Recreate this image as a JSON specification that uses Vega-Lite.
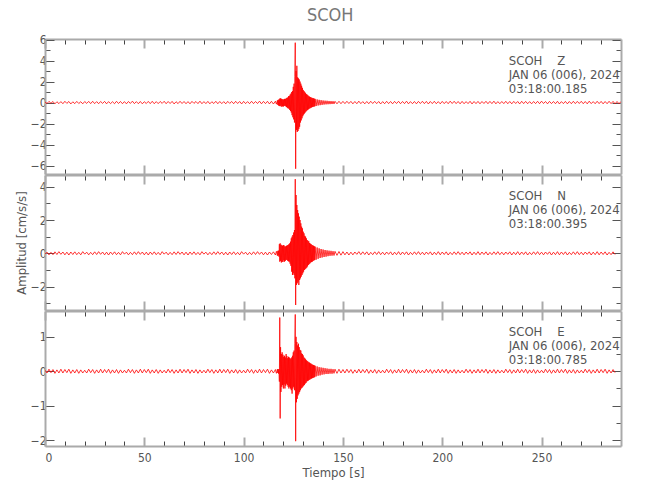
{
  "$schema": "https://vega.github.io/schema/vega-lite/v6.json",
  "padding": {"left": 15, "top": 6, "right": 5, "bottom": 5},
  "background": "white",
  "title": {"text": "SCOH", "fontSize": 18, "font": "DejaVu Sans Condensed", "fontWeight": "normal", "color": "#777777", "offset": 9, "anchor": "middle", "dx": 12},
  "spacing": -2,
  "datasets": {
    "labels": [
      {"ch": "Z", "t": 233.5, "a": 3.97, "label": "SCOH\u00a0\u00a0\u00a0\u00a0Z\nJAN 06 (006), 2024\n03:18:00.185"},
      {"ch": "N", "t": 233.5, "a": 3.44, "label": "SCOH\u00a0\u00a0\u00a0\u00a0N\nJAN 06 (006), 2024\n03:18:00.395"},
      {"ch": "E", "t": 233.5, "a": 1.14, "label": "SCOH\u00a0\u00a0\u00a0\u00a0E\nJAN 06 (006), 2024\n03:18:00.785"}
    ],
    "wave": [
      {"t":0,"Z":0.06,"N":-0.05,"E":0.03},{"t":1,"Z":-0.09,"N":0.07,"E":-0.05},{"t":2,"Z":0.11,"N":-0.09,"E":0.06},{"t":3,"Z":-0.07,"N":0.06,"E":-0.04},{"t":4,"Z":0.1,"N":-0.08,"E":0.05},
      {"t":5,"Z":-0.12,"N":0.09,"E":-0.06},{"t":6,"Z":0.08,"N":-0.07,"E":0.04},{"t":7,"Z":-0.1,"N":0.1,"E":-0.05},{"t":8,"Z":0.09,"N":-0.06,"E":0.06},{"t":9,"Z":-0.11,"N":0.08,"E":-0.05},
      {"t":10,"Z":0.12,"N":-0.09,"E":0.05},{"t":11,"Z":-0.08,"N":0.07,"E":-0.04},{"t":12,"Z":0.1,"N":-0.1,"E":0.06},{"t":13,"Z":-0.13,"N":0.08,"E":-0.06},{"t":14,"Z":0.07,"N":-0.07,"E":0.04},
      {"t":15,"Z":-0.1,"N":0.09,"E":-0.05},{"t":16,"Z":0.11,"N":-0.08,"E":0.05},{"t":17,"Z":-0.09,"N":0.06,"E":-0.06},{"t":18,"Z":0.08,"N":-0.09,"E":0.04},{"t":19,"Z":-0.12,"N":0.1,"E":-0.05},
      {"t":20,"Z":0.1,"N":-0.05,"E":0.03},{"t":21,"Z":-0.08,"N":0.07,"E":-0.05},{"t":22,"Z":0.11,"N":-0.09,"E":0.06},{"t":23,"Z":-0.1,"N":0.06,"E":-0.04},{"t":24,"Z":0.12,"N":-0.08,"E":0.05},
      {"t":25,"Z":-0.1,"N":0.09,"E":-0.06},{"t":26,"Z":0.09,"N":-0.07,"E":0.04},{"t":27,"Z":-0.11,"N":0.1,"E":-0.05},{"t":28,"Z":0.1,"N":-0.06,"E":0.06},{"t":29,"Z":-0.08,"N":0.08,"E":-0.05},
      {"t":30,"Z":0.11,"N":-0.09,"E":0.05},{"t":31,"Z":-0.12,"N":0.07,"E":-0.04},{"t":32,"Z":0.09,"N":-0.1,"E":0.06},{"t":33,"Z":-0.1,"N":0.08,"E":-0.06},{"t":34,"Z":0.08,"N":-0.07,"E":0.04},
      {"t":35,"Z":-0.11,"N":0.09,"E":-0.05},{"t":36,"Z":0.12,"N":-0.08,"E":0.05},{"t":37,"Z":-0.09,"N":0.06,"E":-0.06},{"t":38,"Z":0.1,"N":-0.09,"E":0.04},{"t":39,"Z":-0.11,"N":0.1,"E":-0.05},
      {"t":40,"Z":0.09,"N":-0.05,"E":0.03},{"t":41,"Z":-0.12,"N":0.07,"E":-0.05},{"t":42,"Z":0.1,"N":-0.09,"E":0.06},{"t":43,"Z":-0.08,"N":0.06,"E":-0.04},{"t":44,"Z":0.13,"N":-0.08,"E":0.05},
      {"t":45,"Z":-0.1,"N":0.09,"E":-0.06},{"t":46,"Z":0.09,"N":-0.07,"E":0.04},{"t":47,"Z":-0.11,"N":0.1,"E":-0.05},{"t":48,"Z":0.1,"N":-0.06,"E":0.06},{"t":49,"Z":-0.12,"N":0.08,"E":-0.05},
      {"t":50,"Z":0.08,"N":-0.09,"E":0.05},{"t":51,"Z":-0.09,"N":0.07,"E":-0.04},{"t":52,"Z":0.11,"N":-0.1,"E":0.06},{"t":53,"Z":-0.1,"N":0.08,"E":-0.06},{"t":54,"Z":0.12,"N":-0.07,"E":0.04},
      {"t":55,"Z":-0.11,"N":0.09,"E":-0.05},{"t":56,"Z":0.09,"N":-0.08,"E":0.05},{"t":57,"Z":-0.1,"N":0.06,"E":-0.06},{"t":58,"Z":0.1,"N":-0.09,"E":0.04},{"t":59,"Z":-0.08,"N":0.1,"E":-0.05},
      {"t":60,"Z":0.12,"N":-0.05,"E":0.03},{"t":61,"Z":-0.11,"N":0.07,"E":-0.05},{"t":62,"Z":0.1,"N":-0.09,"E":0.06},{"t":63,"Z":-0.09,"N":0.06,"E":-0.04},{"t":64,"Z":0.11,"N":-0.08,"E":0.05},
      {"t":65,"Z":-0.13,"N":0.09,"E":-0.06},{"t":66,"Z":0.08,"N":-0.07,"E":0.04},{"t":67,"Z":-0.1,"N":0.1,"E":-0.05},{"t":68,"Z":0.12,"N":-0.06,"E":0.06},{"t":69,"Z":-0.09,"N":0.08,"E":-0.05},
      {"t":70,"Z":0.1,"N":-0.09,"E":0.05},{"t":71,"Z":-0.11,"N":0.07,"E":-0.04},{"t":72,"Z":0.09,"N":-0.1,"E":0.06},{"t":73,"Z":-0.12,"N":0.08,"E":-0.06},{"t":74,"Z":0.11,"N":-0.07,"E":0.04},
      {"t":75,"Z":-0.08,"N":0.09,"E":-0.05},{"t":76,"Z":0.1,"N":-0.08,"E":0.05},{"t":77,"Z":-0.1,"N":0.06,"E":-0.06},{"t":78,"Z":0.13,"N":-0.09,"E":0.04},{"t":79,"Z":-0.11,"N":0.1,"E":-0.05},
      {"t":80,"Z":0.09,"N":-0.05,"E":0.03},{"t":81,"Z":-0.1,"N":0.07,"E":-0.05},{"t":82,"Z":0.11,"N":-0.09,"E":0.06},{"t":83,"Z":-0.12,"N":0.06,"E":-0.04},{"t":84,"Z":0.08,"N":-0.08,"E":0.05},
      {"t":85,"Z":-0.09,"N":0.09,"E":-0.06},{"t":86,"Z":0.12,"N":-0.07,"E":0.04},{"t":87,"Z":-0.11,"N":0.1,"E":-0.05},{"t":88,"Z":0.1,"N":-0.06,"E":0.06},{"t":89,"Z":-0.1,"N":0.08,"E":-0.05},
      {"t":90,"Z":0.09,"N":-0.09,"E":0.05},{"t":91,"Z":-0.12,"N":0.07,"E":-0.04},{"t":92,"Z":0.11,"N":-0.1,"E":0.06},{"t":93,"Z":-0.08,"N":0.08,"E":-0.06},{"t":94,"Z":0.1,"N":-0.07,"E":0.04},
      {"t":95,"Z":-0.11,"N":0.09,"E":-0.05},{"t":96,"Z":0.12,"N":-0.08,"E":0.05},{"t":97,"Z":-0.09,"N":0.06,"E":-0.06},{"t":98,"Z":0.1,"N":-0.09,"E":0.04},{"t":99,"Z":-0.13,"N":0.1,"E":-0.05},
      {"t":100,"Z":0.11,"N":-0.05,"E":0.03},{"t":101,"Z":-0.1,"N":0.07,"E":-0.05},{"t":102,"Z":0.09,"N":-0.09,"E":0.06},{"t":103,"Z":-0.11,"N":0.06,"E":-0.04},{"t":104,"Z":0.12,"N":-0.08,"E":0.05},
      {"t":105,"Z":-0.1,"N":0.09,"E":-0.06},{"t":106,"Z":0.1,"N":-0.07,"E":0.04},{"t":107,"Z":-0.09,"N":0.1,"E":-0.05},{"t":108,"Z":0.13,"N":-0.06,"E":0.06},{"t":109,"Z":-0.12,"N":0.08,"E":-0.05},
      {"t":110,"Z":0.11,"N":-0.09,"E":0.05},{"t":111,"Z":-0.1,"N":0.07,"E":-0.04},{"t":112,"Z":0.12,"N":-0.1,"E":0.06},{"t":113,"Z":-0.13,"N":0.08,"E":-0.06},{"t":114,"Z":0.12,"N":-0.07,"E":0.04},
      {"t":115,"Z":-0.14,"N":0.09,"E":-0.05},
      {"t":116,"Z":0.13,"N":-0.1,"E":0.05},{"t":116.5,"Z":-0.15,"N":0.12,"E":-0.06},{"t":117,"Z":0.2,"N":-0.14,"E":0.06},{"t":117.2,"Z":-0.22,"N":0.15,"E":-0.05},{"t":117.4,"Z":0.25,"N":-0.13,"E":0.06},
      {"t":117.6,"Z":-0.28,"N":0.16,"E":-0.07},{"t":117.8,"Z":0.3,"N":-0.2,"E":0.06},{"t":118,"Z":-0.32,"N":0.55,"E":-0.3},{"t":118.2,"Z":0.38,"N":-0.5,"E":1.56},{"t":118.4,"Z":-0.35,"N":0.6,"E":-1.37},
      {"t":118.6,"Z":0.4,"N":-0.45,"E":0.7},{"t":118.8,"Z":-0.3,"N":0.52,"E":-0.6},{"t":119,"Z":0.36,"N":-0.55,"E":0.5},{"t":119.2,"Z":-0.4,"N":0.48,"E":-0.45},{"t":119.4,"Z":0.3,"N":-0.5,"E":0.55},
      {"t":119.6,"Z":-0.35,"N":0.45,"E":-0.4},{"t":119.8,"Z":0.32,"N":-0.52,"E":0.48},{"t":120,"Z":-0.38,"N":0.5,"E":-0.5},{"t":120.2,"Z":0.28,"N":-0.42,"E":0.42},{"t":120.4,"Z":-0.33,"N":0.47,"E":-0.38},
      {"t":120.6,"Z":0.35,"N":-0.5,"E":0.45},{"t":120.8,"Z":-0.3,"N":0.4,"E":-0.5},{"t":121,"Z":0.34,"N":-0.45,"E":0.4},{"t":121.2,"Z":-0.36,"N":0.42,"E":-0.42},{"t":121.4,"Z":0.4,"N":-0.38,"E":0.5},
      {"t":121.6,"Z":-0.42,"N":0.45,"E":-0.36},{"t":121.8,"Z":0.45,"N":-0.4,"E":0.44},{"t":122,"Z":-0.5,"N":0.48,"E":-0.4},{"t":122.2,"Z":0.48,"N":-0.45,"E":0.38},{"t":122.4,"Z":-0.55,"N":0.5,"E":-0.45},
      {"t":122.6,"Z":0.6,"N":-0.48,"E":0.42},{"t":122.8,"Z":-0.58,"N":0.55,"E":-0.5},{"t":123,"Z":0.62,"N":-0.5,"E":0.4},{"t":123.2,"Z":-0.7,"N":0.6,"E":-0.45},{"t":123.4,"Z":0.75,"N":-0.62,"E":0.38},
      {"t":123.6,"Z":-0.8,"N":0.7,"E":-0.5},{"t":123.8,"Z":0.85,"N":-0.75,"E":0.35},{"t":124,"Z":-0.95,"N":0.9,"E":-0.55},{"t":124.2,"Z":1.0,"N":-1.1,"E":0.4},{"t":124.4,"Z":-1.2,"N":1.0,"E":-0.65},
      {"t":124.6,"Z":1.1,"N":-1.3,"E":0.45},{"t":124.8,"Z":-1.4,"N":1.1,"E":-0.5},{"t":125,"Z":1.5,"N":-1.2,"E":0.55},{"t":125.2,"Z":-1.6,"N":1.25,"E":-0.45},{"t":125.4,"Z":1.8,"N":-1.3,"E":0.6},
      {"t":125.6,"Z":-1.9,"N":1.4,"E":-0.55},{"t":125.8,"Z":2.5,"N":-1.5,"E":0.8},{"t":126,"Z":5.7,"N":4.45,"E":1.65},{"t":126.2,"Z":-6.3,"N":-3.1,"E":-2.03},{"t":126.4,"Z":3.0,"N":3.5,"E":1.0},
      {"t":126.6,"Z":-2.6,"N":-1.9,"E":-0.9},{"t":126.8,"Z":3.5,"N":2.9,"E":0.85},{"t":127,"Z":-2.8,"N":-1.8,"E":-0.8},{"t":127.2,"Z":2.4,"N":2.6,"E":0.75},{"t":127.4,"Z":-2.7,"N":-1.7,"E":-0.7},
      {"t":127.6,"Z":2.3,"N":2.4,"E":0.8},{"t":127.8,"Z":-2.5,"N":-1.9,"E":-0.65},{"t":128,"Z":2.2,"N":2.2,"E":0.7},{"t":128.2,"Z":-2.3,"N":-1.6,"E":-0.6},{"t":128.4,"Z":2.0,"N":2.0,"E":0.62},
      {"t":128.6,"Z":-1.9,"N":-1.5,"E":-0.55},{"t":128.8,"Z":1.8,"N":1.8,"E":0.6},{"t":129,"Z":-1.7,"N":-1.4,"E":-0.5},{"t":129.2,"Z":1.6,"N":1.6,"E":0.52},{"t":129.4,"Z":-1.5,"N":-1.3,"E":-0.48},
      {"t":129.6,"Z":1.4,"N":1.5,"E":0.5},{"t":129.8,"Z":-1.3,"N":-1.2,"E":-0.45},{"t":130,"Z":1.2,"N":1.3,"E":0.46},{"t":130.2,"Z":-1.15,"N":-1.1,"E":-0.42},{"t":130.4,"Z":1.1,"N":1.2,"E":0.4},
      {"t":130.6,"Z":-1.05,"N":-1.0,"E":-0.4},{"t":130.8,"Z":1.0,"N":1.05,"E":0.38},{"t":131,"Z":-0.95,"N":-0.95,"E":-0.36},{"t":131.2,"Z":0.9,"N":1.0,"E":0.35},{"t":131.4,"Z":-0.85,"N":-0.9,"E":-0.34},
      {"t":131.6,"Z":0.8,"N":0.9,"E":0.32},{"t":131.8,"Z":-0.78,"N":-0.85,"E":-0.3},{"t":132,"Z":0.75,"N":0.8,"E":0.3},{"t":132.2,"Z":-0.7,"N":-0.78,"E":-0.28},{"t":132.4,"Z":0.68,"N":0.75,"E":0.28},
      {"t":132.6,"Z":-0.65,"N":-0.7,"E":-0.27},{"t":132.8,"Z":0.6,"N":0.72,"E":0.26},{"t":133,"Z":-0.58,"N":-0.65,"E":-0.25},{"t":133.2,"Z":0.56,"N":0.62,"E":0.25},{"t":133.4,"Z":-0.55,"N":-0.6,"E":-0.24},
      {"t":133.6,"Z":0.52,"N":0.58,"E":0.23},{"t":133.8,"Z":-0.5,"N":-0.55,"E":-0.22},{"t":134,"Z":0.48,"N":0.55,"E":0.22},{"t":134.2,"Z":-0.46,"N":-0.52,"E":-0.21},{"t":134.4,"Z":0.45,"N":0.5,"E":0.2},
      {"t":134.6,"Z":-0.43,"N":-0.5,"E":-0.2},{"t":134.8,"Z":0.42,"N":0.48,"E":0.19},{"t":135,"Z":-0.4,"N":-0.45,"E":-0.19},{"t":135.2,"Z":0.4,"N":0.45,"E":0.18},{"t":135.4,"Z":-0.38,"N":-0.43,"E":-0.18},
      {"t":135.6,"Z":0.37,"N":0.42,"E":0.17},{"t":135.8,"Z":-0.36,"N":-0.4,"E":-0.17},{"t":136,"Z":0.35,"N":0.4,"E":0.16},{"t":136.5,"Z":-0.33,"N":-0.38,"E":-0.15},{"t":137,"Z":0.3,"N":0.35,"E":0.14},
      {"t":137.5,"Z":-0.28,"N":-0.33,"E":-0.13},{"t":138,"Z":0.26,"N":0.3,"E":0.12},{"t":138.5,"Z":-0.25,"N":-0.28,"E":-0.12},{"t":139,"Z":0.23,"N":0.26,"E":0.11},{"t":139.5,"Z":-0.22,"N":-0.25,"E":-0.1},
      {"t":140,"Z":0.2,"N":0.23,"E":0.1},{"t":140.5,"Z":-0.19,"N":-0.22,"E":-0.09},{"t":141,"Z":0.18,"N":0.2,"E":0.09},{"t":141.5,"Z":-0.17,"N":-0.2,"E":-0.08},{"t":142,"Z":0.17,"N":0.18,"E":0.08},
      {"t":142.5,"Z":-0.16,"N":-0.17,"E":-0.08},{"t":143,"Z":0.15,"N":0.16,"E":0.07},{"t":143.5,"Z":-0.15,"N":-0.15,"E":-0.07},{"t":144,"Z":0.14,"N":0.15,"E":0.07},{"t":144.5,"Z":-0.14,"N":-0.14,"E":-0.07},
      {"t":145,"Z":0.13,"N":0.13,"E":0.06},{"t":145.5,"Z":-0.13,"N":-0.13,"E":-0.06},{"t":146,"Z":0.12,"N":0.12,"E":0.06},{"t":147,"Z":-0.12,"N":-0.12,"E":-0.06},{"t":148,"Z":0.12,"N":0.11,"E":0.06},
      {"t":149,"Z":-0.11,"N":-0.11,"E":-0.05},{"t":150,"Z":0.11,"N":0.1,"E":0.05},
      {"t":151,"Z":-0.1,"N":-0.09,"E":-0.05},{"t":152,"Z":0.12,"N":0.08,"E":0.06},{"t":153,"Z":-0.09,"N":-0.1,"E":-0.04},{"t":154,"Z":0.11,"N":0.07,"E":0.05},{"t":155,"Z":-0.12,"N":-0.09,"E":-0.06},
      {"t":156,"Z":0.1,"N":0.08,"E":0.04},{"t":157,"Z":-0.11,"N":-0.06,"E":-0.05},{"t":158,"Z":0.13,"N":0.1,"E":0.06},{"t":159,"Z":-0.1,"N":-0.08,"E":-0.05},{"t":160,"Z":0.09,"N":0.09,"E":0.05},
      {"t":161,"Z":-0.12,"N":-0.07,"E":-0.04},{"t":162,"Z":0.1,"N":0.09,"E":0.06},{"t":163,"Z":-0.11,"N":-0.1,"E":-0.06},{"t":164,"Z":0.12,"N":0.06,"E":0.04},{"t":165,"Z":-0.09,"N":-0.08,"E":-0.05},
      {"t":166,"Z":0.11,"N":0.09,"E":0.05},{"t":167,"Z":-0.1,"N":-0.07,"E":-0.06},{"t":168,"Z":0.1,"N":0.1,"E":0.04},{"t":169,"Z":-0.13,"N":-0.08,"E":-0.05},{"t":170,"Z":0.09,"N":0.07,"E":0.03},
      {"t":171,"Z":-0.11,"N":-0.09,"E":-0.05},{"t":172,"Z":0.12,"N":0.08,"E":0.06},{"t":173,"Z":-0.1,"N":-0.06,"E":-0.04},{"t":174,"Z":0.1,"N":0.09,"E":0.05},{"t":175,"Z":-0.12,"N":-0.1,"E":-0.06},
      {"t":176,"Z":0.11,"N":0.07,"E":0.04},{"t":177,"Z":-0.09,"N":-0.08,"E":-0.05},{"t":178,"Z":0.12,"N":0.1,"E":0.06},{"t":179,"Z":-0.11,"N":-0.09,"E":-0.05},{"t":180,"Z":0.1,"N":0.08,"E":0.05},
      {"t":181,"Z":-0.1,"N":-0.07,"E":-0.04},{"t":182,"Z":0.13,"N":0.09,"E":0.06},{"t":183,"Z":-0.12,"N":-0.1,"E":-0.06},{"t":184,"Z":0.09,"N":0.06,"E":0.04},{"t":185,"Z":-0.11,"N":-0.08,"E":-0.05},
      {"t":186,"Z":0.1,"N":0.09,"E":0.05},{"t":187,"Z":-0.12,"N":-0.07,"E":-0.06},{"t":188,"Z":0.11,"N":0.1,"E":0.04},{"t":189,"Z":-0.09,"N":-0.08,"E":-0.05},{"t":190,"Z":0.12,"N":0.07,"E":0.03},
      {"t":191,"Z":-0.1,"N":-0.09,"E":-0.05},{"t":192,"Z":0.11,"N":0.08,"E":0.06},{"t":193,"Z":-0.13,"N":-0.06,"E":-0.04},{"t":194,"Z":0.1,"N":0.09,"E":0.05},{"t":195,"Z":-0.1,"N":-0.1,"E":-0.06},
      {"t":196,"Z":0.12,"N":0.07,"E":0.04},{"t":197,"Z":-0.11,"N":-0.08,"E":-0.05},{"t":198,"Z":0.09,"N":0.1,"E":0.06},{"t":199,"Z":-0.12,"N":-0.09,"E":-0.05},{"t":200,"Z":0.11,"N":0.08,"E":0.05},
      {"t":201,"Z":-0.1,"N":-0.07,"E":-0.04},{"t":202,"Z":0.1,"N":0.09,"E":0.06},{"t":203,"Z":-0.11,"N":-0.1,"E":-0.06},{"t":204,"Z":0.13,"N":0.06,"E":0.04},{"t":205,"Z":-0.09,"N":-0.08,"E":-0.05},
      {"t":206,"Z":0.12,"N":0.09,"E":0.05},{"t":207,"Z":-0.1,"N":-0.07,"E":-0.06},{"t":208,"Z":0.1,"N":0.1,"E":0.04},{"t":209,"Z":-0.12,"N":-0.08,"E":-0.05},{"t":210,"Z":0.11,"N":0.07,"E":0.03},
      {"t":211,"Z":-0.11,"N":-0.09,"E":-0.05},{"t":212,"Z":0.09,"N":0.08,"E":0.06},{"t":213,"Z":-0.1,"N":-0.06,"E":-0.04},{"t":214,"Z":0.12,"N":0.09,"E":0.05},{"t":215,"Z":-0.13,"N":-0.1,"E":-0.06},
      {"t":216,"Z":0.1,"N":0.07,"E":0.04},{"t":217,"Z":-0.1,"N":-0.08,"E":-0.05},{"t":218,"Z":0.11,"N":0.1,"E":0.06},{"t":219,"Z":-0.12,"N":-0.09,"E":-0.05},{"t":220,"Z":0.1,"N":0.08,"E":0.05},
      {"t":221,"Z":-0.09,"N":-0.07,"E":-0.04},{"t":222,"Z":0.12,"N":0.09,"E":0.06},{"t":223,"Z":-0.11,"N":-0.1,"E":-0.06},{"t":224,"Z":0.11,"N":0.06,"E":0.04},{"t":225,"Z":-0.1,"N":-0.08,"E":-0.05},
      {"t":226,"Z":0.13,"N":0.09,"E":0.05},{"t":227,"Z":-0.12,"N":-0.07,"E":-0.06},{"t":228,"Z":0.09,"N":0.1,"E":0.04},{"t":229,"Z":-0.11,"N":-0.08,"E":-0.05},{"t":230,"Z":0.1,"N":0.07,"E":0.03},
      {"t":231,"Z":-0.1,"N":-0.09,"E":-0.05},{"t":232,"Z":0.12,"N":0.08,"E":0.06},{"t":233,"Z":-0.11,"N":-0.06,"E":-0.04},{"t":234,"Z":0.1,"N":0.09,"E":0.05},{"t":235,"Z":-0.12,"N":-0.1,"E":-0.06},
      {"t":236,"Z":0.11,"N":0.07,"E":0.04},{"t":237,"Z":-0.09,"N":-0.08,"E":-0.05},{"t":238,"Z":0.1,"N":0.1,"E":0.06},{"t":239,"Z":-0.13,"N":-0.09,"E":-0.05},{"t":240,"Z":0.12,"N":0.08,"E":0.05},
      {"t":241,"Z":-0.1,"N":-0.07,"E":-0.04},{"t":242,"Z":0.11,"N":0.09,"E":0.06},{"t":243,"Z":-0.11,"N":-0.1,"E":-0.06},{"t":244,"Z":0.09,"N":0.06,"E":0.04},{"t":245,"Z":-0.12,"N":-0.08,"E":-0.05},
      {"t":246,"Z":0.1,"N":0.09,"E":0.05},{"t":247,"Z":-0.1,"N":-0.07,"E":-0.06},{"t":248,"Z":0.12,"N":0.1,"E":0.04},{"t":249,"Z":-0.11,"N":-0.08,"E":-0.05},{"t":250,"Z":0.13,"N":0.07,"E":0.03},
      {"t":251,"Z":-0.09,"N":-0.09,"E":-0.05},{"t":252,"Z":0.1,"N":0.08,"E":0.06},{"t":253,"Z":-0.12,"N":-0.06,"E":-0.04},{"t":254,"Z":0.11,"N":0.09,"E":0.05},{"t":255,"Z":-0.1,"N":-0.1,"E":-0.06},
      {"t":256,"Z":0.1,"N":0.07,"E":0.04},{"t":257,"Z":-0.11,"N":-0.08,"E":-0.05},{"t":258,"Z":0.12,"N":0.1,"E":0.06},{"t":259,"Z":-0.13,"N":-0.09,"E":-0.05},{"t":260,"Z":0.09,"N":0.08,"E":0.05},
      {"t":261,"Z":-0.1,"N":-0.07,"E":-0.04},{"t":262,"Z":0.11,"N":0.09,"E":0.06},{"t":263,"Z":-0.12,"N":-0.1,"E":-0.06},{"t":264,"Z":0.1,"N":0.06,"E":0.04},{"t":265,"Z":-0.11,"N":-0.08,"E":-0.05},
      {"t":266,"Z":0.12,"N":0.09,"E":0.05},{"t":267,"Z":-0.1,"N":-0.07,"E":-0.06},{"t":268,"Z":0.11,"N":0.1,"E":0.04},{"t":269,"Z":-0.09,"N":-0.08,"E":-0.05},{"t":270,"Z":0.12,"N":0.07,"E":0.03},
      {"t":271,"Z":-0.11,"N":-0.09,"E":-0.05},{"t":272,"Z":0.1,"N":0.08,"E":0.06},{"t":273,"Z":-0.12,"N":-0.06,"E":-0.04},{"t":274,"Z":0.13,"N":0.09,"E":0.05},{"t":275,"Z":-0.1,"N":-0.1,"E":-0.06},
      {"t":276,"Z":0.09,"N":0.07,"E":0.04},{"t":277,"Z":-0.11,"N":-0.08,"E":-0.05},{"t":278,"Z":0.12,"N":0.1,"E":0.06},{"t":279,"Z":-0.1,"N":-0.09,"E":-0.05},{"t":280,"Z":0.11,"N":0.08,"E":0.05},
      {"t":281,"Z":-0.12,"N":-0.07,"E":-0.04},{"t":282,"Z":0.1,"N":0.09,"E":0.06},{"t":283,"Z":-0.11,"N":-0.1,"E":-0.06},{"t":284,"Z":0.12,"N":0.06,"E":0.04},{"t":285,"Z":-0.1,"N":-0.08,"E":-0.05},
      {"t":286,"Z":0.11,"N":0.09,"E":0.05},{"t":287,"Z":-0.12,"N":-0.07,"E":-0.04},{"t":288,"Z":0.1,"N":null,"E":null},{"t":289,"Z":-0.11,"N":null,"E":null},{"t":290,"Z":0.1,"N":null,"E":null}
    ]
  },
  "vconcat": [
    {
      "width": 576, "height": 135,
      "layer": [
        {
          "data": {"name": "wave"},
          "mark": {"type": "line", "color": "#ff0000", "strokeWidth": 0.8, "clip": true},
          "encoding": {
            "x": {"field": "t", "type": "quantitative", "scale": {"domain": [0, 290], "nice": false, "zero": false},
              "axis": {"orient": "bottom", "values": [0,10,20,30,40,50,60,70,80,90,100,110,120,130,140,150,160,170,180,190,200,210,220,230,240,250,260,270,280], "labels": false, "title": null,
                "tickSize": {"condition": {"test": "datum.value % 50 === 0", "value": -9}, "value": -5},
                "tickColor": {"condition": {"test": "datum.value % 50 === 0", "value": "#aaaaaa"}, "value": "#444444"},
                "tickWidth": {"condition": {"test": "datum.value % 50 === 0", "value": 2}, "value": 1}}},
            "y": {"field": "Z", "type": "quantitative", "scale": {"domain": [-6.8, 6.05], "nice": false, "zero": false},
              "axis": {"orient": "left", "values": [-6,-5,-4,-3,-2,-1,0,1,2,3,4,5,6], "title": null, "format": "d",
                "labelExpr": "datum.value % 2 === 0 ? datum.label : ''", "labelPadding": 8,
                "tickSize": {"condition": {"test": "datum.value % 2 === 0", "value": -9}, "value": -5}}}
          }
        },
        {
          "data": {"name": "labels"},
          "transform": [{"filter": "datum.ch === 'Z'"}],
          "mark": {"type": "text", "align": "left", "baseline": "middle", "lineBreak": "\n", "lineHeight": 14, "font": "DejaVu Sans Condensed", "fontSize": 13, "color": "#555555"},
          "encoding": {
            "x": {"field": "t", "type": "quantitative",
              "axis": {"orient": "top", "values": [0,10,20,30,40,50,60,70,80,90,100,110,120,130,140,150,160,170,180,190,200,210,220,230,240,250,260,270,280], "labels": false, "title": null,
                "tickSize": {"condition": {"test": "datum.value % 50 === 0", "value": -9}, "value": -5},
                "tickColor": {"condition": {"test": "datum.value % 50 === 0", "value": "#aaaaaa"}, "value": "#444444"},
                "tickWidth": {"condition": {"test": "datum.value % 50 === 0", "value": 2}, "value": 1}}},
            "y": {"field": "a", "type": "quantitative",
              "axis": {"orient": "right", "values": [-6,-5,-4,-3,-2,-1,0,1,2,3,4,5,6], "labels": false, "title": null,
                "tickSize": {"condition": {"test": "datum.value % 2 === 0", "value": -9}, "value": -5}}},
            "text": {"field": "label"}
          }
        }
      ],
      "resolve": {"axis": {"x": "independent", "y": "independent"}}
    },
    {
      "width": 576, "height": 135,
      "layer": [
        {
          "data": {"name": "wave"},
          "mark": {"type": "line", "color": "#ff0000", "strokeWidth": 0.8, "clip": true},
          "encoding": {
            "x": {"field": "t", "type": "quantitative", "scale": {"domain": [0, 290], "nice": false, "zero": false},
              "axis": {"orient": "bottom", "values": [0,10,20,30,40,50,60,70,80,90,100,110,120,130,140,150,160,170,180,190,200,210,220,230,240,250,260,270,280], "labels": false, "title": null,
                "tickSize": {"condition": {"test": "datum.value % 50 === 0", "value": -9}, "value": -5},
                "tickColor": {"condition": {"test": "datum.value % 50 === 0", "value": "#aaaaaa"}, "value": "#444444"},
                "tickWidth": {"condition": {"test": "datum.value % 50 === 0", "value": 2}, "value": 1}}},
            "y": {"field": "N", "type": "quantitative", "scale": {"domain": [-3.4, 4.7], "nice": false, "zero": false},
              "axis": {"orient": "left", "values": [-3,-2,-1,0,1,2,3,4], "title": "Amplitud [cm/s/s]", "titlePadding": 2, "format": "d",
                "labelExpr": "datum.value % 2 === 0 ? datum.label : ''", "labelPadding": 8,
                "tickSize": {"condition": {"test": "datum.value % 2 === 0", "value": -9}, "value": -5}}}
          }
        },
        {
          "data": {"name": "labels"},
          "transform": [{"filter": "datum.ch === 'N'"}],
          "mark": {"type": "text", "align": "left", "baseline": "middle", "lineBreak": "\n", "lineHeight": 14, "font": "DejaVu Sans Condensed", "fontSize": 13, "color": "#555555"},
          "encoding": {
            "x": {"field": "t", "type": "quantitative",
              "axis": {"orient": "top", "values": [0,10,20,30,40,50,60,70,80,90,100,110,120,130,140,150,160,170,180,190,200,210,220,230,240,250,260,270,280], "labels": false, "title": null,
                "tickSize": {"condition": {"test": "datum.value % 50 === 0", "value": -9}, "value": -5},
                "tickColor": {"condition": {"test": "datum.value % 50 === 0", "value": "#aaaaaa"}, "value": "#444444"},
                "tickWidth": {"condition": {"test": "datum.value % 50 === 0", "value": 2}, "value": 1}}},
            "y": {"field": "a", "type": "quantitative",
              "axis": {"orient": "right", "values": [-3,-2,-1,0,1,2,3,4], "labels": false, "title": null,
                "tickSize": {"condition": {"test": "datum.value % 2 === 0", "value": -9}, "value": -5}}},
            "text": {"field": "label"}
          }
        }
      ],
      "resolve": {"axis": {"x": "independent", "y": "independent"}}
    },
    {
      "width": 576, "height": 135,
      "layer": [
        {
          "data": {"name": "wave"},
          "mark": {"type": "line", "color": "#ff0000", "strokeWidth": 0.8, "clip": true},
          "encoding": {
            "x": {"field": "t", "type": "quantitative", "scale": {"domain": [0, 290], "nice": false, "zero": false},
              "axis": {"orient": "bottom", "values": [0,10,20,30,40,50,60,70,80,90,100,110,120,130,140,150,160,170,180,190,200,210,220,230,240,250,260,270,280], "title": "Tiempo [s]", "titlePadding": 3,
                "labelExpr": "datum.value % 50 === 0 ? datum.label : ''", "labelPadding": 15,
                "tickSize": {"condition": {"test": "datum.value % 50 === 0", "value": -9}, "value": -5},
                "tickColor": {"condition": {"test": "datum.value % 50 === 0", "value": "#aaaaaa"}, "value": "#444444"},
                "tickWidth": {"condition": {"test": "datum.value % 50 === 0", "value": 2}, "value": 1}}},
            "y": {"field": "E", "type": "quantitative", "scale": {"domain": [-2.17, 1.75], "nice": false, "zero": false},
              "axis": {"orient": "left", "values": [-2,-1.5,-1,-0.5,0,0.5,1,1.5], "title": null, "format": "d",
                "labelExpr": "datum.value % 1 === 0 ? datum.label : ''", "labelPadding": 8,
                "tickSize": {"condition": {"test": "datum.value % 1 === 0", "value": -9}, "value": -5}}}
          }
        },
        {
          "data": {"name": "labels"},
          "transform": [{"filter": "datum.ch === 'E'"}],
          "mark": {"type": "text", "align": "left", "baseline": "middle", "lineBreak": "\n", "lineHeight": 14, "font": "DejaVu Sans Condensed", "fontSize": 13, "color": "#555555"},
          "encoding": {
            "x": {"field": "t", "type": "quantitative",
              "axis": {"orient": "top", "values": [0,10,20,30,40,50,60,70,80,90,100,110,120,130,140,150,160,170,180,190,200,210,220,230,240,250,260,270,280], "labels": false, "title": null,
                "tickSize": {"condition": {"test": "datum.value % 50 === 0", "value": -9}, "value": -5},
                "tickColor": {"condition": {"test": "datum.value % 50 === 0", "value": "#aaaaaa"}, "value": "#444444"},
                "tickWidth": {"condition": {"test": "datum.value % 50 === 0", "value": 2}, "value": 1}}},
            "y": {"field": "a", "type": "quantitative",
              "axis": {"orient": "right", "values": [-2,-1.5,-1,-0.5,0,0.5,1,1.5], "labels": false, "title": null,
                "tickSize": {"condition": {"test": "datum.value % 1 === 0", "value": -9}, "value": -5}}},
            "text": {"field": "label"}
          }
        }
      ],
      "resolve": {"axis": {"x": "independent", "y": "independent"}}
    }
  ],
  "config": {
    "view": {"stroke": null},
    "axis": {"grid": false, "domainColor": "#aaaaaa", "domainWidth": 2, "tickColor": "#555555", "labelColor": "#555555", "labelFont": "DejaVu Sans Condensed", "labelFontSize": 12, "titleFont": "DejaVu Sans Condensed", "titleFontSize": 13, "titleFontWeight": "normal", "titleColor": "#555555"}
  }
}
